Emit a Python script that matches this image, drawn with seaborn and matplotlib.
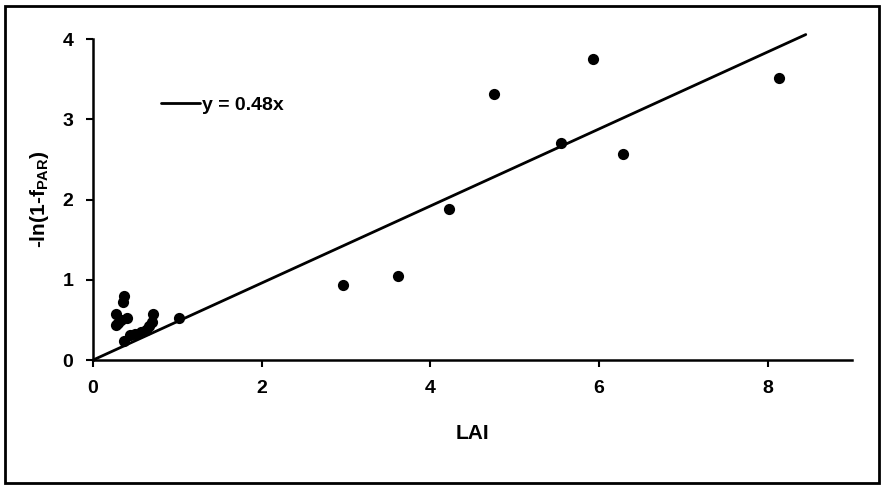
import matplotlib
matplotlib.use('Agg')
import matplotlib.pyplot as plt
import seaborn as sns
import pandas as pd
from matplotlib.patches import Rectangle

# measured points (LAI vs -ln(1-fPAR))
lai = [0.28, 0.30, 0.27, 0.33, 0.37, 0.36, 0.40, 0.37, 0.44, 0.50, 0.57,
       0.63, 0.67, 0.71, 0.70, 1.02,
       2.97, 3.62, 4.22, 4.75, 5.55, 5.93, 6.28, 8.13]
ln_fpar = [0.58, 0.46, 0.44, 0.50, 0.80, 0.72, 0.53, 0.24, 0.31, 0.33, 0.35,
           0.38, 0.42, 0.57, 0.47, 0.53,
           0.93, 1.05, 1.88, 3.32, 2.71, 3.75, 2.57, 3.52]

# fitted line through origin
slope = 0.48
fit_x = [0.0, 8.45]
fit_y = [slope * v for v in fit_x]

x_ticks = [0, 2, 4, 6, 8]
y_ticks = [0, 1, 2, 3, 4]

sns.set_theme(style='white')
plt.rcParams['font.family'] = ['Liberation Sans', 'DejaVu Sans']
plt.rcParams['font.weight'] = 'bold'
plt.rcParams['text.color'] = 'black'
plt.rcParams['axes.labelcolor'] = 'black'
plt.rcParams['mathtext.fontset'] = 'custom'
plt.rcParams['mathtext.rm'] = 'Liberation Sans:bold'

fig = plt.figure(figsize=(8.84, 4.88), dpi=100)
ax = fig.add_axes([0.105, 0.262, 0.859, 0.658])

pts = pd.DataFrame({'LAI': lai, 'y': ln_fpar})
fit = pd.DataFrame({'LAI': fit_x, 'y': fit_y})

sns.scatterplot(data=pts, x='LAI', y='y', ax=ax, color='black', s=65,
                edgecolor='black', linewidth=0, zorder=3)
sns.lineplot(data=fit, x='LAI', y='y', ax=ax, color='black', linewidth=2,
             label='y = 0.48x', clip_on=False)

ax.set_xlim(0, 9)
ax.set_ylim(0, 4)
ax.set_xticks(x_ticks)
ax.set_yticks(y_ticks)
ax.tick_params(axis='both', direction='out', length=5, width=1.5,
               labelsize=14, pad=9, colors='black', bottom=True, left=True)
for lab in ax.get_xticklabels() + ax.get_yticklabels():
    lab.set_fontweight('bold')

sns.despine(ax=ax)
for s in ['left', 'bottom']:
    ax.spines[s].set_linewidth(1.8)
    ax.spines[s].set_color('black')

ax.set_xlabel('LAI', fontsize=15, fontweight='bold', labelpad=20)
ax.set_ylabel(r'-ln(1-f$_{\mathrm{PAR}}$)', fontsize=15, fontweight='bold',
              labelpad=8)

leg = ax.legend(loc='upper left', bbox_to_anchor=(0.08, 0.845), frameon=False,
                handlelength=2.0, handletextpad=0.1, borderaxespad=0,
                prop={'size': 14, 'weight': 'bold'})

fig.patches.append(Rectangle((0.006, 0.01), 0.988, 0.978, transform=fig.transFigure,
                             fill=False, edgecolor='black', linewidth=2))

fig.savefig('out.png', dpi=100)
